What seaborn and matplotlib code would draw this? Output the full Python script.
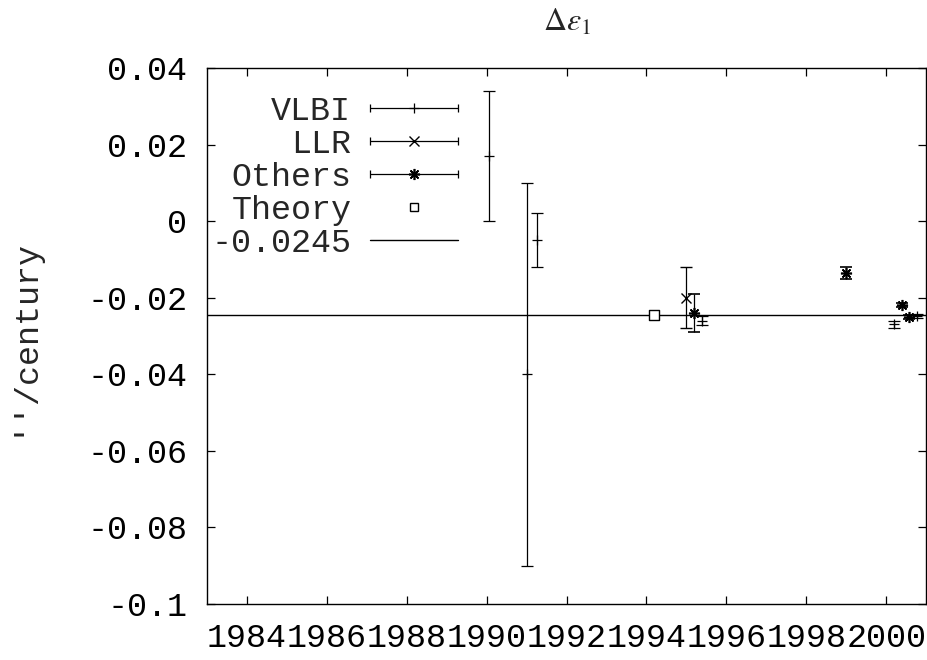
import seaborn as sns
import matplotlib.pyplot as plt
from matplotlib.lines import Line2D
from matplotlib.collections import LineCollection
from matplotlib.container import ErrorbarContainer
from matplotlib.legend_handler import HandlerErrorbar

# values (year, value, half error bar)
vlbi_year = [1990.05, 1991.0, 1991.25, 1995.4, 2000.2, 2000.77]
vlbi_val = [0.017, -0.040, -0.005, -0.026, -0.027, -0.0248]
vlbi_err = [0.017, 0.050, 0.007, 0.0012, 0.001, 0.0005]

llr_year = [1995.0]
llr_val = [-0.020]
llr_err = [0.008]

others_year = [1995.2, 1999.0, 2000.4, 2000.57]
others_val = [-0.024, -0.0135, -0.022, -0.025]
others_err = [0.005, 0.0015, 0.0005, 0.0005]

theory_year = [1994.2]
theory_val = [-0.0245]

mean_value = -0.0245

x_ticks = [1984, 1986, 1988, 1990, 1992, 1994, 1996, 1998, 2000]
y_ticks = [0.04, 0.02, 0, -0.02, -0.04, -0.06, -0.08, -0.1]
y_tick_labels = ['0.04', '0.02', '0', '-0.02', '-0.04', '-0.06', '-0.08', '-0.1']

sns.set_style("ticks", {"xtick.direction": "in", "ytick.direction": "in"})
plt.rcParams['font.family'] = ['Liberation Mono', 'DejaVu Sans Mono']
plt.rcParams['mathtext.fontset'] = 'stix'

fig = plt.figure(figsize=(9.28, 6.6), dpi=100)
ax = fig.add_axes([0.223, 0.085, 0.775, 0.812])

asterisk = (8, 2, 0)
err_kw = dict(color='k', linestyle='none', elinewidth=0.9, capsize=4.5, capthick=0.9)

ax.errorbar(vlbi_year, vlbi_val, yerr=vlbi_err, marker='+', markersize=7, mew=0.9, **err_kw)
ax.errorbar(llr_year, llr_val, yerr=llr_err, marker='x', markersize=7, mew=1.0, **err_kw)
ax.errorbar(others_year, others_val, yerr=others_err, marker=asterisk, markersize=8, mew=1.2, **err_kw)
sns.scatterplot(x=theory_year, y=theory_val, marker='s', s=45, facecolor='white',
                edgecolor='k', linewidth=1.0, ax=ax, zorder=3)
ax.axhline(mean_value, color='k', lw=1.0)

ax.set_xlim(1983, 2001)
ax.set_ylim(-0.1, 0.04)
ax.set_xticks(x_ticks)
ax.set_xticklabels([str(t) for t in x_ticks])
ax.set_yticks(y_ticks)
ax.set_yticklabels(y_tick_labels)
ax.tick_params(axis='both', which='both', direction='in', length=6, width=0.9,
               top=True, right=True, labelsize=24, pad=14, colors='k')
for sp in ax.spines.values():
    sp.set_linewidth(1.0)
    sp.set_color('k')

ax.set_ylabel("''/century", fontsize=24)
ax.yaxis.set_label_coords(-0.235, 0.5)
ax.set_title(r'$\Delta\varepsilon_1$', fontsize=23, pad=27)


def err_proxy(marker, ms, mew):
    ln = Line2D([], [], color='k', marker=marker, markersize=ms, linestyle='none', markeredgewidth=mew)
    cap = Line2D([], [], color='k', marker='|', markersize=6, markeredgewidth=0.9)
    bar = LineCollection([], colors='k', linewidths=0.9)
    return ErrorbarContainer((ln, (cap, cap), (bar,)), has_xerr=True, has_yerr=False)


handles = [
    err_proxy('+', 7, 0.9),
    err_proxy('x', 7, 1.0),
    err_proxy(asterisk, 8, 1.2),
    Line2D([], [], color='k', marker='s', markersize=6, markerfacecolor='white', linestyle='none'),
    Line2D([], [], color='k', lw=1.0),
]
labels = ['VLBI', 'LLR', 'Others', 'Theory', '-0.0245']
ax.legend(handles, labels, loc='upper left', bbox_to_anchor=(0.006, 0.948), frameon=False,
          markerfirst=False, handlelength=2.65, handletextpad=0.55, labelspacing=0.06,
          borderpad=0, borderaxespad=0, fontsize=24,
          handler_map={ErrorbarContainer: HandlerErrorbar(xerr_size=1.325)})

fig.savefig('out.png', dpi=100)
